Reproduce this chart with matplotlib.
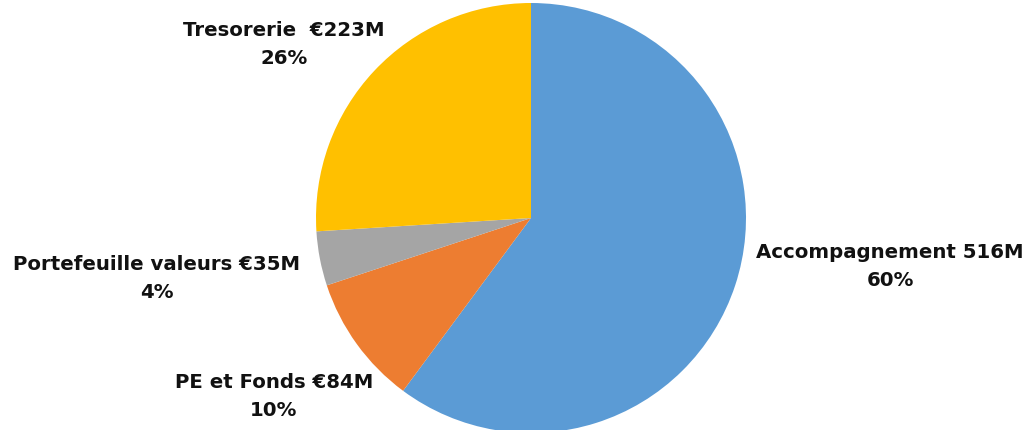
import matplotlib.pyplot as plt

# Données (millions d'euros)
categories = ["Accompagnement", "PE et Fonds", "Portefeuille valeurs", "Tresorerie"]
valeurs = [516, 84, 35, 223]
etiquettes = ["Accompagnement 516M", "PE et Fonds €84M",
              "Portefeuille valeurs €35M", "Tresorerie  €223M"]
pourcentages = ["60%", "10%", "4%", "26%"]
couleurs = ["#5B9BD5", "#ED7D31", "#A5A5A5", "#FFC000"]

# position des étiquettes (en pixels de la figure)
pos_etiquettes = [(890, 267), (274, 397), (157, 278), (284, 45)]

W, H = 1034, 430
cx, cy, R = 531, 218, 215

fig = plt.figure(figsize=(W / 100, H / 100), dpi=100)
ax = fig.add_axes([0, 0, 1, 1])
ax.pie(valeurs, colors=couleurs, startangle=90, counterclock=False,
       radius=1, center=(0, 0))
ax.set_xlim(-cx / R, (W - cx) / R)
ax.set_ylim(-(H - cy) / R, cy / R)
ax.set_aspect("auto")
ax.axis("off")

for txt, pct, (px, py) in zip(etiquettes, pourcentages, pos_etiquettes):
    ax.text((px - cx) / R, (cy - py) / R, txt + "\n" + pct,
            ha="center", va="center", fontsize=14.2, fontweight="bold",
            family=["DejaVu Sans"], color="#111111", linespacing=1.6)

fig.savefig("out.png", dpi=100)
